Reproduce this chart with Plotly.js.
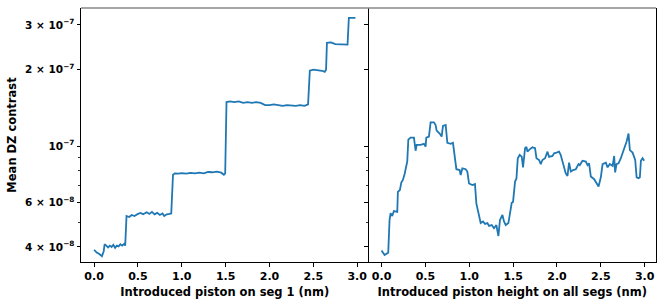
<!DOCTYPE html>
<html>
<head>
<meta charset="utf-8">
<script src="https://cdn.plot.ly/plotly-3.0.1.min.js"></script>
<style>html,body{margin:0;padding:0;background:#fff;}#chart{width:664px;height:305px;}</style>
</head>
<body>
<div id="chart"></div>
<script>
// Left panel: piston on segment 1
const segX = [0.00,0.03,0.06,0.09,0.11,0.12,0.14,0.16,0.18,0.20,0.22,0.24,0.26,0.28,0.30,0.32,0.345,0.355,
  0.37,0.40,0.43,0.46,0.50,0.53,0.56,0.60,0.63,0.66,0.69,0.72,0.75,0.78,0.80,0.83,0.86,0.88,
  0.90,0.92,0.96,1.00,1.05,1.10,1.15,1.20,1.25,1.30,1.35,1.40,1.45,1.48,1.495,
  1.51,1.55,1.60,1.65,1.70,1.75,1.80,1.85,1.90,1.95,2.00,2.05,2.10,2.15,2.20,2.25,2.30,2.35,2.40,2.44,
  2.46,2.50,2.55,2.60,2.63,2.645,
  2.655,2.70,2.75,2.80,2.85,2.89,
  2.905,2.95,2.98];
const segY = [3.9e-8,3.8e-8,3.75e-8,3.68e-8,3.85e-8,4.1e-8,4.05e-8,3.98e-8,4.05e-8,4.0e-8,4.08e-8,3.97e-8,4.05e-8,4.02e-8,4.1e-8,4.05e-8,4.12e-8,4.05e-8,
  5.3e-8,5.25e-8,5.35e-8,5.3e-8,5.4e-8,5.45e-8,5.38e-8,5.48e-8,5.4e-8,5.5e-8,5.38e-8,5.45e-8,5.35e-8,5.42e-8,5.3e-8,5.38e-8,5.4e-8,5.42e-8,
  7.7e-8,7.8e-8,7.78e-8,7.82e-8,7.78e-8,7.84e-8,7.8e-8,7.85e-8,7.8e-8,7.9e-8,7.88e-8,7.92e-8,7.85e-8,7.7e-8,7.8e-8,
  1.49e-7,1.5e-7,1.49e-7,1.5e-7,1.48e-7,1.49e-7,1.48e-7,1.49e-7,1.48e-7,1.45e-7,1.45e-7,1.46e-7,1.45e-7,1.44e-7,1.45e-7,1.44e-7,1.44e-7,1.45e-7,1.44e-7,1.46e-7,
  1.98e-7,2.0e-7,1.99e-7,1.98e-7,1.96e-7,2.0e-7,
  2.55e-7,2.56e-7,2.52e-7,2.52e-7,2.51e-7,2.51e-7,
  3.2e-7,3.21e-7,3.2e-7];

// Right panel: piston height on all segments
const allX = [0.000,0.034,0.076,0.091,0.103,0.122,0.140,0.179,0.186,0.209,0.225,0.243,0.263,0.282,0.293,0.305,0.331,0.369,
  0.388,0.400,0.445,0.483,0.502,0.510,0.540,0.559,0.597,0.616,0.628,0.662,0.685,0.700,0.731,0.750,0.788,0.814,0.825,0.853,
  0.890,0.902,0.921,0.959,0.978,0.997,1.035,1.065,1.081,1.104,1.119,1.130,1.156,1.179,1.207,1.225,1.256,1.282,1.309,1.332,
  1.350,1.378,1.396,1.416,1.446,1.461,1.484,1.499,1.522,1.538,1.553,1.575,1.598,1.613,1.636,1.652,1.663,1.689,1.720,1.750,
  1.766,1.796,1.815,1.834,1.864,1.892,1.910,1.949,1.967,1.994,2.024,2.043,2.063,2.081,2.100,2.120,2.138,2.158,2.184,2.215,
  2.245,2.260,2.291,2.329,2.348,2.366,2.386,2.424,2.451,2.474,2.500,2.520,2.557,2.577,2.603,2.634,2.652,2.663,2.679,2.702,
  2.728,2.755,2.777,2.793,2.816,2.831,2.862,2.892,2.908,2.931,2.945,2.957,2.976,2.994];
const allY = [3.87e-8,3.72e-8,3.80e-8,5.11e-8,5.44e-8,5.30e-8,5.54e-8,5.50e-8,6.6e-8,6.71e-8,7.18e-8,7.35e-8,7.76e-8,8.29e-8,8.7e-8,1.06e-7,1.08e-7,1.08e-7,
  9.58e-8,1.01e-7,1.01e-7,1.02e-7,9.95e-8,1.08e-7,1.09e-7,1.24e-7,1.24e-7,1.21e-7,1.15e-7,1.12e-7,1.09e-7,1.20e-7,1.21e-7,1.03e-7,1.02e-7,1.03e-7,9.5e-8,8.1e-8,
  8.04e-8,7.69e-8,8.17e-8,8.1e-8,7.93e-8,7.12e-8,7.02e-8,7.08e-8,5.93e-8,5.43e-8,5.27e-8,4.97e-8,5.04e-8,4.93e-8,4.97e-8,4.84e-8,4.88e-8,4.74e-8,4.88e-8,4.42e-8,
  5.11e-8,5.35e-8,5.04e-8,4.88e-8,4.97e-8,5.35e-8,5.97e-8,6.02e-8,7.24e-8,7.45e-8,8.95e-8,9.22e-8,9.08e-8,8.24e-8,9.8e-8,9.93e-8,9.5e-8,9.7e-8,9.88e-8,9.8e-8,
  8.95e-8,8.81e-8,8.49e-8,8.81e-8,8.95e-8,9.5e-8,9.06e-8,9.14e-8,9.36e-8,9.42e-8,9.5e-8,9.22e-8,8.68e-8,8.41e-8,7.8e-8,7.62e-8,8.6e-8,7.93e-8,8.04e-8,8.1e-8,
  8.49e-8,8.41e-8,8.75e-8,8.68e-8,8.41e-8,8.55e-8,7.58e-8,7.4e-8,7.14e-8,6.93e-8,7.53e-8,8.49e-8,8.6e-8,8.24e-8,8.49e-8,8.34e-8,9.14e-8,7.87e-8,8.49e-8,8.55e-8,
  8.95e-8,9.5e-8,9.95e-8,1.04e-7,1.12e-7,9.64e-8,9.42e-8,8.81e-8,7.53e-8,7.47e-8,7.53e-8,8.75e-8,8.95e-8,8.75e-8];

const xTicks = [0, 0.5, 1.0, 1.5, 2.0, 2.5, 3.0];
const yTickVals = [4e-8, 6e-8, 1e-7, 2e-7, 3e-7];
const yTickText = ['4 × 10<sup>−8</sup>', '6 × 10<sup>−8</sup>', '10<sup>−7</sup>', '2 × 10<sup>−7</sup>', '3 × 10<sup>−7</sup>'];
const yMinorVals = [5e-8, 7e-8, 8e-8, 9e-8];

const tickFontX = {family: 'DejaVu Sans', size: 11, color: '#000', weight: 'bold'};
const tickFontY = {family: 'DejaVu Sans', size: 10.5, color: '#000', weight: 'bold'};
const titleFont = {family: 'DejaVu Sans', size: 11.5, color: '#000', weight: 'bold'};
const lineStyle = {color: '#1f77b4', width: 1.8};

const traces = [
  {x: segX, y: segY, type: 'scatter', mode: 'lines', line: lineStyle, xaxis: 'x', yaxis: 'y', hoverinfo: 'skip'},
  {x: allX, y: allY, type: 'scatter', mode: 'lines', line: lineStyle, xaxis: 'x2', yaxis: 'y2', hoverinfo: 'skip'}
];

const yRange = [Math.log10(3.49e-8), Math.log10(3.5e-7)];
const xRange = [-0.149, 3.129];

function xAxis(domain, anchor, title) {
  return {
    domain: domain, anchor: anchor, range: xRange,
    tickmode: 'array', tickvals: xTicks, tickformat: '.1f',
    ticks: 'outside', ticklen: 3.5, tickwidth: 1, tickcolor: '#000',
    showline: true, linecolor: '#000', linewidth: 1, mirror: false,
    showgrid: false, zeroline: false, tickfont: tickFontX,
    title: {text: title, font: titleFont, standoff: 6}
  };
}
function yAxis(anchor, labels, mirror) {
  return {
    type: 'log', anchor: anchor, range: yRange,
    tickmode: 'array', tickvals: yTickVals, ticktext: yTickText,
    ticks: 'outside', ticklen: 3.5, tickwidth: 1, tickcolor: '#000',
    minor: {tickmode: 'array', tickvals: yMinorVals, ticks: 'outside', ticklen: 2, tickwidth: 0.8, tickcolor: '#000', showgrid: false},
    showticklabels: labels,
    showline: true, linecolor: '#000', linewidth: 1, mirror: mirror,
    showgrid: false, zeroline: false, tickfont: tickFontY
  };
}

const layout = {
  width: 664, height: 305,
  margin: {l: 81, r: 8, t: 8, b: 43},
  paper_bgcolor: '#fff', plot_bgcolor: '#fff',
  showlegend: false,
  xaxis: xAxis([0, 0.5], 'y', 'Introduced piston on seg 1 (nm)'),
  xaxis2: xAxis([0.5, 1], 'y2', 'Introduced piston height on all segs (nm)'),
  yaxis: Object.assign(yAxis('x', true, false), {title: {text: 'Mean DZ contrast', font: titleFont, standoff: 6}}),
  yaxis2: Object.assign(yAxis('x2', false, true), {matches: 'y'}),
  shapes: [
    {type: 'line', xref: 'paper', yref: 'paper', x0: 0, x1: 1, y0: 1, y1: 1, line: {color: '#888', width: 1.5}}
  ]
};

Plotly.newPlot('chart', traces, layout, {staticPlot: true, displayModeBar: false});
</script>
</body>
</html>
